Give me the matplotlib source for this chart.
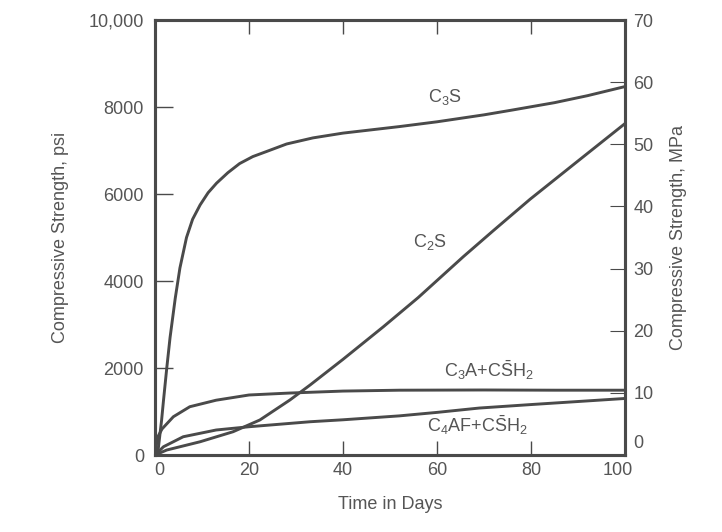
import matplotlib
matplotlib.use("Agg")
import matplotlib.pyplot as plt
import matplotlib.transforms as mtransforms

plt.rcParams['font.family'] = ['Liberation Sans', 'DejaVu Sans']
plt.rcParams['mathtext.fontset'] = 'custom'
plt.rcParams['mathtext.rm'] = 'Liberation Sans'
plt.rcParams['mathtext.it'] = 'Liberation Sans'

# Data (days, psi)
c3s_days = [0, 0.7, 1.4, 1.8, 2.5, 3.2, 4.3, 5.3, 6.7, 8, 9.6, 11.3, 13.1, 15.5, 18, 20.8, 23.8, 28, 33.6, 40, 48, 52, 60, 70, 76, 85, 92, 100]
c3s_psi = [0, 150, 800, 1250, 2000, 2700, 3600, 4300, 5000, 5420, 5750, 6030, 6250, 6490, 6700, 6860, 6980, 7150, 7290, 7400, 7500, 7550, 7660, 7820, 7930, 8100, 8260, 8470]

c2s_days = [0, 2.5, 9.6, 16.6, 22.3, 28.7, 33, 40, 48.6, 56, 65.6, 72, 79.8, 90, 100]
c2s_psi = [0, 115, 305, 535, 805, 1265, 1610, 2200, 2950, 3620, 4560, 5160, 5880, 6760, 7620]

c3a_days = [0, 0.5, 1.5, 3.9, 7.4, 13, 20, 28.7, 40, 52, 70, 85, 100]
c3a_psi = [0, 400, 600, 880, 1110, 1260, 1380, 1425, 1470, 1490, 1495, 1490, 1490]

c4af_days = [0, 1.8, 6, 13, 20, 33, 40, 52, 60, 69, 80, 90, 100]
c4af_psi = [0, 190, 420, 575, 650, 765, 810, 900, 980, 1080, 1160, 1230, 1300]

x_ticks = [0, 20, 40, 60, 80, 100]
psi_ticks = [0, 2000, 4000, 6000, 8000, 10000]
psi_labels = ['0', '2000', '4000', '6000', '8000', '10,000']
mpa_ticks = [0, 10, 20, 30, 40, 50, 60, 70]

line_c = '#4a4a4a'
text_c = '#555555'

fig = plt.figure(figsize=(7.22, 5.32), dpi=100)
ax = fig.add_axes([0.2147, 0.1447, 0.651, 0.8177])

for d, v in [(c3s_days, c3s_psi), (c2s_days, c2s_psi), (c3a_days, c3a_psi), (c4af_days, c4af_psi)]:
    ax.plot(d, v, color=line_c, lw=2.1, solid_capstyle='round', solid_joinstyle='round', zorder=3)

ax.set_xlim(0, 100)
ax.set_ylim(0, 10000)
ax.set_xticks(x_ticks)
ax.set_yticks(psi_ticks)
ax.set_yticklabels(psi_labels)
for s in ax.spines.values():
    s.set_color(line_c)
    s.set_linewidth(2.2)
ax.tick_params(axis='both', direction='in', colors=line_c, labelcolor=text_c, labelsize=13, width=1.0)
ax.tick_params(axis='y', length=13, pad=8)
ax.tick_params(axis='x', length=10, pad=5, top=True)
ax.set_xlabel('Time in Days', fontsize=13, color=text_c, labelpad=12)
ax.set_ylabel('Compressive Strength, psi', fontsize=13, color=text_c, labelpad=14)

ax2 = ax.twinx()
ax2.set_ylim(0, 70)
ax2.set_yticks(mpa_ticks)
ax2.tick_params(axis='y', direction='in', length=11, colors=line_c, labelcolor=text_c, labelsize=13, pad=6)
for s in ax2.spines.values():
    s.set_color(line_c)
    s.set_linewidth(2.2)
ax2.set_ylabel('Compressive Strength, MPa', fontsize=13, color=text_c, labelpad=12)

fig.canvas.draw()
lab0 = ax2.get_yticklabels()[0]
lab0.set_transform(lab0.get_transform() + mtransforms.ScaledTranslation(0, 10 / 72, fig.dpi_scale_trans))
labx0 = ax.get_xticklabels()[0]
labx0.set_transform(labx0.get_transform() + mtransforms.ScaledTranslation(3 / 72, 0, fig.dpi_scale_trans))
labx100 = ax.get_xticklabels()[-1]
labx100.set_transform(labx100.get_transform() + mtransforms.ScaledTranslation(-5 / 72, 0, fig.dpi_scale_trans))

ax.text(61.7, 8230, r'C$_3$S', fontsize=13, color=text_c, ha='center', va='center')
ax.text(58.5, 4900, r'C$_2$S', fontsize=13, color=text_c, ha='center', va='center')
ax.text(71, 1950, r'C$_3$A+C$\bar{\mathrm{S}}$H$_2$', fontsize=13, color=text_c, ha='center', va='center')
ax.text(68.5, 680, r'C$_4$AF+C$\bar{\mathrm{S}}$H$_2$', fontsize=13, color=text_c, ha='center', va='center')

fig.savefig('out.png', dpi=100)
